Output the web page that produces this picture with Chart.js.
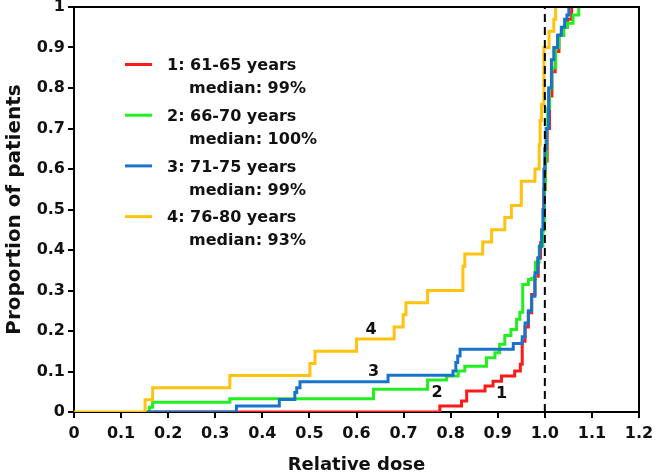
<!DOCTYPE html>
<html>
<head>
<meta charset="utf-8">
<script src="https://cdn.jsdelivr.net/npm/chart.js@4/dist/chart.umd.min.js"></script>
<style>
  html, body { margin: 0; padding: 0; background: #fff; }
  #wrap { width: 657px; height: 476px; }
</style>
</head>
<body>
<div id="wrap"><canvas id="c"></canvas></div>
<script>
// 刻度
const xTickLabels = ['0', '0.1', '0.2', '0.3', '0.4', '0.5', '0.6', '0.7', '0.8', '0.9', '1.0', '1.1', '1.2'];
const yTickLabels = ['0', '0.1', '0.2', '0.3', '0.4', '0.5', '0.6', '0.7', '0.8', '0.9', '1'];

// 图例
const groupNames = ['1: 61-65 years', '2: 66-70 years', '3: 71-75 years', '4: 76-80 years'];
const groupMedians = ['median: 99%', 'median: 100%', 'median: 99%', 'median: 93%'];
const groupColors = ['#ff1a1a', '#22ee22', '#1874c8', '#ffc20e'];

// 1: 61-65
const dose1 = [0.155, 0.777, 0.823, 0.834, 0.873, 0.890, 0.908, 0.936, 0.948, 0.952, 0.958, 0.965, 0.972, 0.979, 0.986, 0.991, 0.995, 0.998, 1.001, 1.005, 1.010, 1.015, 1.022, 1.030, 1.040, 1.048, 1.057];
const prop1 = [0, 0.015, 0.027, 0.052, 0.064, 0.076, 0.089, 0.101, 0.118, 0.175, 0.21, 0.245, 0.29, 0.335, 0.38, 0.418, 0.45, 0.55, 0.62, 0.70, 0.78, 0.84, 0.89, 0.93, 0.95, 0.97, 1.0];

// 2: 66-70
const dose2 = [0.155, 0.160, 0.167, 0.331, 0.636, 0.751, 0.791, 0.816, 0.830, 0.876, 0.894, 0.904, 0.915, 0.928, 0.940, 0.947, 0.953, 0.965, 0.972, 0.980, 0.988, 0.996, 0.999, 1.001, 1.003, 1.006, 1.010, 1.015, 1.023, 1.030, 1.040, 1.048, 1.060, 1.072];
const prop2 = [0, 0.012, 0.024, 0.033, 0.056, 0.079, 0.089, 0.101, 0.113, 0.134, 0.146, 0.167, 0.189, 0.204, 0.229, 0.246, 0.315, 0.327, 0.33, 0.37, 0.41, 0.45, 0.55, 0.62, 0.70, 0.75, 0.80, 0.85, 0.90, 0.93, 0.95, 0.96, 0.98, 1.0];

// 3: 71-75
const dose3 = [0.155, 0.345, 0.436, 0.469, 0.473, 0.480, 0.667, 0.805, 0.811, 0.815, 0.820, 0.933, 0.952, 0.958, 0.965, 0.972, 0.979, 0.985, 0.989, 0.993, 0.996, 0.998, 1.000, 1.003, 1.008, 1.014, 1.019, 1.027, 1.035, 1.042, 1.047, 1.051];
const prop3 = [0, 0.015, 0.031, 0.048, 0.06, 0.075, 0.091, 0.101, 0.122, 0.138, 0.155, 0.169, 0.186, 0.22, 0.25, 0.286, 0.344, 0.38, 0.409, 0.45, 0.50, 0.60, 0.65, 0.70, 0.80, 0.87, 0.90, 0.93, 0.95, 0.97, 0.98, 1.0];

// 4: 76-80
const dose4 = [0, 0.151, 0.167, 0.331, 0.501, 0.512, 0.600, 0.680, 0.699, 0.705, 0.751, 0.826, 0.830, 0.868, 0.887, 0.915, 0.929, 0.950, 0.979, 0.988, 0.990, 0.993, 0.998, 1.009, 1.019, 1.023];
const prop4 = [0, 0.03, 0.06, 0.09, 0.12, 0.15, 0.18, 0.21, 0.24, 0.27, 0.30, 0.36, 0.39, 0.42, 0.45, 0.48, 0.51, 0.57, 0.60, 0.66, 0.72, 0.76, 0.90, 0.94, 0.97, 1.0];

// 参考线 和 曲线编号
const refDose = 1.0;
const curveTags = ['1', '2', '3', '4'];
const tagDose = [0.908, 0.771, 0.636, 0.631];
const tagProp = [0.045, 0.048, 0.099, 0.203];

const FONT = '"DejaVu Sans", sans-serif';

function pts(xs, ys) {
    return xs.map((x, i) => ({ x: x, y: ys[i] }));
}

function stepSet(xs, ys, idx, order) {
    return {
        label: groupNames[idx],
        data: pts(xs, ys),
        borderColor: groupColors[idx],
        borderWidth: 3,
        pointRadius: 0,
        stepped: 'before',
        fill: false,
        order: order
    };
}

// 框线、图例、编号
const extrasPlugin = {
    id: 'extras',
    afterDatasetsDraw(chart) {
        const ctx = chart.ctx;
        const a = chart.chartArea;
        const xs = chart.scales.x, ys = chart.scales.y;
        ctx.save();

        // 上、右框线
        ctx.strokeStyle = '#000';
        ctx.lineWidth = 2;
        ctx.beginPath();
        ctx.moveTo(a.left, a.top);
        ctx.lineTo(a.right, a.top);
        ctx.lineTo(a.right, a.bottom);
        ctx.stroke();

        // 曲线编号
        ctx.fillStyle = '#111';
        ctx.font = 'bold 16px ' + FONT;
        ctx.textAlign = 'center';
        ctx.textBaseline = 'middle';
        curveTags.forEach((t, i) => {
            ctx.fillText(t, xs.getPixelForValue(tagDose[i]), ys.getPixelForValue(tagProp[i]));
        });

        // 图例
        ctx.textAlign = 'left';
        groupNames.forEach((name, i) => {
            const y0 = 66 + i * 50.7;
            ctx.strokeStyle = groupColors[i];
            ctx.lineWidth = 3;
            ctx.beginPath();
            ctx.moveTo(125, y0 - 1.5);
            ctx.lineTo(152, y0 - 1.5);
            ctx.stroke();
            ctx.fillStyle = '#111';
            ctx.fillText(name, 167, y0);
            ctx.fillText(groupMedians[i], 189, y0 + 23);
        });
        ctx.restore();
    }
};

const chart = new Chart(document.getElementById('c'), {
    type: 'line',
    data: {
        datasets: [
            stepSet(dose1, prop1, 0, 4),
            stepSet(dose2, prop2, 1, 3),
            stepSet(dose3, prop3, 2, 1),
            stepSet(dose4, prop4, 3, 2),
            {
                label: 'ref',
                data: [{ x: refDose, y: 0 }, { x: refDose, y: 1 }],
                borderColor: '#000',
                borderWidth: 2,
                borderDash: [8, 5],
                pointRadius: 0,
                order: 0
            }
        ]
    },
    options: {
        responsive: true,
        maintainAspectRatio: false,
        animation: false,
        layout: { padding: { top: 7, right: 18, left: 0, bottom: 0 } },
        plugins: {
            legend: { display: false },
            tooltip: { enabled: false }
        },
        scales: {
            x: {
                type: 'linear',
                min: 0,
                max: 1.2,
                afterFit: (s) => { s.height = 64; s.paddingLeft = 0; s.paddingRight = 0; },
                border: { color: '#000', width: 2 },
                grid: { drawOnChartArea: false, drawTicks: true, tickLength: 6, color: '#000', lineWidth: 2 },
                ticks: {
                    stepSize: 0.1,
                    autoSkip: false,
                    maxRotation: 0,
                    color: '#111',
                    padding: 6,
                    font: { family: FONT, size: 16, weight: 'bold' },
                    callback: (v, i) => xTickLabels[i]
                },
                title: {
                    display: true,
                    text: 'Relative dose',
                    color: '#111',
                    padding: { top: 2, bottom: 0 },
                    font: { family: FONT, size: 18, weight: 'bold' }
                }
            },
            y: {
                type: 'linear',
                min: 0,
                max: 1,
                afterFit: (s) => { s.width = 74; s.paddingTop = 0; s.paddingBottom = 0; },
                border: { color: '#000', width: 2 },
                grid: { drawOnChartArea: false, drawTicks: true, tickLength: 6, color: '#000', lineWidth: 2 },
                ticks: {
                    stepSize: 0.1,
                    autoSkip: false,
                    color: '#111',
                    padding: 3,
                    font: { family: FONT, size: 16, weight: 'bold' },
                    callback: (v, i) => yTickLabels[i]
                },
                title: {
                    display: true,
                    text: 'Proportion of patients',
                    color: '#111',
                    padding: { top: 3, bottom: 2 },
                    font: { family: FONT, size: 20, weight: 'bold' }
                }
            }
        }
    },
    plugins: [extrasPlugin]
});
</script>
</body>
</html>
